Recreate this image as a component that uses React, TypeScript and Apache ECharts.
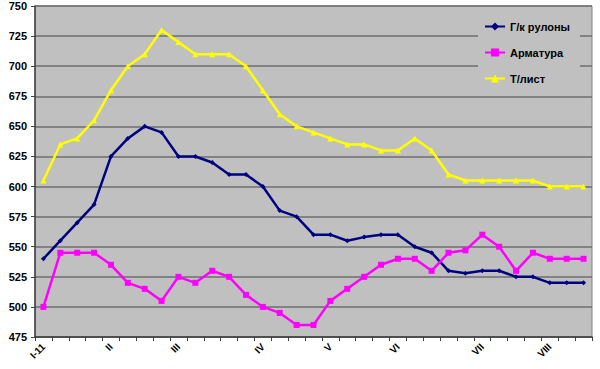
import React, { useEffect, useRef } from "react";
import * as echarts from "echarts";

const categories: string[] = [
  "I-11", "", "", "", "II", "", "", "", "III", "", "", "", "", "IV", "", "", "",
  "V", "", "", "", "VI", "", "", "", "", "VII", "", "", "", "VIII", "", "",
];
const hotRolled: number[] = [
  540, 555, 570, 585, 625, 640, 650, 645, 625, 625, 620, 610, 610, 600, 580, 575, 560,
  560, 555, 558, 560, 560, 550, 545, 530, 528, 530, 530, 525, 525, 520, 520, 520,
];
const rebar: number[] = [
  500, 545, 545, 545, 535, 520, 515, 505, 525, 520, 530, 525, 510, 500, 495, 485, 485,
  505, 515, 525, 535, 540, 540, 530, 545, 547, 560, 550, 530, 545, 540, 540, 540,
];
const plate: number[] = [
  605, 635, 640, 655, 680, 700, 710, 730, 720, 710, 710, 710, 700, 680, 660, 650, 645,
  640, 635, 635, 630, 630, 640, 630, 610, 605, 605, 605, 605, 605, 600, 600, 600,
];
const seriesNames = ["Г/к рулоны", "Арматура", "Т/лист"];

const FONT = "'Liberation Sans', Arial, sans-serif";

export default function App() {
  const ref = useRef<HTMLDivElement>(null);
  useEffect(() => {
    if (!ref.current) return;
    const chart = echarts.init(ref.current, null, { renderer: "svg" });
    chart.setOption({
      animation: false,
      backgroundColor: "#ffffff",
      grid: {
        left: 35,
        right: 8,
        top: 6,
        bottom: 32,
        show: true,
        backgroundColor: "#C0C0C0",
        borderColor: "#808080",
        borderWidth: 1,
      },
      legend: {
        orient: "vertical",
        left: 478,
        top: 17,
        backgroundColor: "#C0C0C0",
        padding: [4, 10, 6, 6],
        itemWidth: 20,
        itemHeight: 10,
        itemGap: 15,
        textStyle: { fontFamily: FONT, fontWeight: "bold", fontSize: 11, color: "#000" },
        data: seriesNames,
      },
      xAxis: {
        type: "category",
        data: categories,
        boundaryGap: true,
        axisLine: { lineStyle: { color: "#404040", width: 1.5 } },
        axisTick: { show: true, interval: 0, length: 4, lineStyle: { color: "#404040" } },
        axisLabel: {
          interval: 0,
          rotate: 45,
          margin: 8,
          fontFamily: FONT,
          fontWeight: "bold",
          fontSize: 10,
          color: "#000",
        },
      },
      yAxis: {
        type: "value",
        min: 475,
        max: 750,
        interval: 25,
        axisLine: { show: true, lineStyle: { color: "#404040", width: 1.5 } },
        axisTick: { show: true, length: 4, lineStyle: { color: "#404040" } },
        axisLabel: {
          margin: 8,
          fontFamily: FONT,
          fontWeight: "bold",
          fontSize: 11,
          color: "#000",
        },
        splitLine: { lineStyle: { color: "#6e6e6e", width: 1.5 } },
      },
      series: [
        {
          name: seriesNames[0],
          type: "line",
          data: hotRolled,
          symbol: "diamond",
          symbolSize: 5,
          lineStyle: { color: "#000080", width: 2.5 },
          itemStyle: { color: "#000080" },
        },
        {
          name: seriesNames[1],
          type: "line",
          data: rebar,
          symbol: "rect",
          symbolSize: 6,
          lineStyle: { color: "#FF00FF", width: 2.5 },
          itemStyle: { color: "#FF00FF" },
        },
        {
          name: seriesNames[2],
          type: "line",
          data: plate,
          symbol: "triangle",
          symbolSize: 6,
          lineStyle: { color: "#FFFF00", width: 2.5 },
          itemStyle: { color: "#FFFF00" },
        },
      ],
    });
    return () => chart.dispose();
  }, []);
  return <div ref={ref} style={{ width: 600, height: 369, position: "absolute", left: 0, top: 0 }} />;
}
